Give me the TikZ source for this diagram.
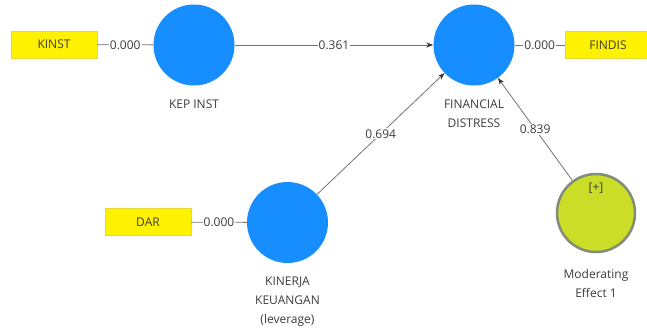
\documentclass[tikz,border=0pt]{standalone}
\usepackage{fontspec}
\setmainfont{Open Sans}
\usepackage{tikz}
\usetikzlibrary{arrows.meta, calc, math}

\definecolor{lvblue}{RGB}{22,142,255}
\definecolor{lvgreen}{RGB}{204,221,40}
\definecolor{lvrim}{RGB}{128,140,120}
\definecolor{txtgray}{RGB}{60,60,60}

\begin{document}
\begin{tikzpicture}[x=1pt, y=-1pt, font=\fontsize{12}{19}\selectfont, text=txtgray,
  latent/.style={circle, fill=lvblue, minimum size=81pt, inner sep=0pt},
  moder/.style={circle, fill=lvgreen, draw=lvrim, line width=2.5pt, minimum size=78pt, inner sep=0pt},
  indic/.style={rectangle, fill=yellow, draw=yellow!75!gray, minimum width=86pt, minimum height=27pt, inner sep=0pt},
  lbl/.style={align=center},
  coef/.style={fill=white, inner sep=1pt},
  path/.style={draw=black!55, line width=0.8pt},
  arr/.style={path, -{Stealth[length=7pt, width=5pt, black!80]}}]

\useasboundingbox (0,0) rectangle (647,333);

\tikzmath{
  \rx = 194; \ry = 45;
  \fx = 474; \fy = 45;
  \kx = 287.5; \ky = 222.5;
  \mx = 596; \my = 213;
         }

% latent variables
\node[latent] (kep) at (\rx,\ry) {};
\node[latent] (fd)  at (\fx,\fy) {};
\node[latent] (kin) at (\kx,\ky) {};
\node[moder]  (mod) at (\mx,\my) {};
\node (plus) at (\mx,188) {[+]};

\node[lbl] (keplbl) at (\rx,104) {KEP INST};
\node[lbl] (fdlbl)  at (\fx,114) {FINANCIAL\\DISTRESS};
\node[lbl] (kinlbl) at (\kx,302) {KINERJA\\KEUANGAN\\(leverage)};
\node[lbl] (modlbl) at (\mx,283) {Moderating\\Effect 1};

% indicators
\node[indic] (kinst)  at (54,44.5)  {KINST};
\node[indic] (findis) at (608,45)   {FINDIS};
\node[indic] (dar)    at (148,222)  {DAR};

% outer loadings
\draw[path] (kinst) -- node[coef] (w1) {0.000} (kep);
\draw[path] (fd) -- node[coef] (w2) {0.000} (findis);
\draw[path] (dar) -- node[coef] (w3) {0.000} (kin);

% path coefficients
\draw[arr] (kep) -- node[coef] (p1) {0.361} (fd);
\draw[arr] (kin) -- node[coef] (p2) {0.694} (fd);
\draw[arr] (mod) -- node[coef] (p3) {0.839} (fd);

\end{tikzpicture}
\end{document}
